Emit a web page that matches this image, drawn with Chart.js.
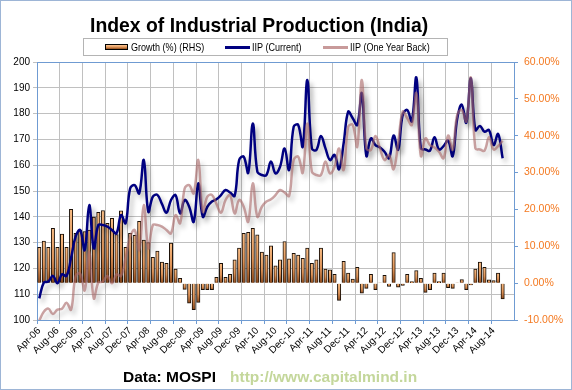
<!DOCTYPE html>
<html>
<head>
<meta charset="utf-8">
<script src="https://cdn.jsdelivr.net/npm/chart.js@4.4.0/dist/chart.umd.min.js"></script>
<style>
  html, body { margin: 0; padding: 0; background: #fff; }
  #wrap { position: relative; width: 572px; height: 390px; overflow: hidden; font-family: 'Liberation Sans', Arial, sans-serif; }
  #chart { position: absolute; left: 0; top: 0; }
  #frame { position: absolute; left: 0; top: 0; width: 572px; height: 390px; box-sizing: border-box; border: 1px solid #9db5d6; pointer-events: none; }
  .title { position: absolute; left: 90px; top: 14px; font-weight: bold; font-size: 21px; line-height: 21px; white-space: nowrap; color: #000; transform: scaleX(0.923); transform-origin: 0 0; }
  .legend { position: absolute; left: 83px; top: 38px; width: 365px; height: 18px; box-sizing: border-box; border: 1px solid #b4b4b4; background: #fff; font-size: 10.5px; }
  .legend span { position: absolute; top: 0; line-height: 16px; white-space: nowrap; color: #000; transform: scaleX(0.86); transform-origin: 0 0; }
  .legend .swatch { position: absolute; left: 21px; top: 5px; width: 23px; height: 6px; box-sizing: border-box; border: 1px solid #000; background: linear-gradient(#fcc896, #e49a5e 50%, #93501f); }
  .legend .ln { position: absolute; top: 7px; width: 25px; height: 3px; }
  .footer { position: absolute; top: 369px; font-weight: bold; font-size: 15.5px; line-height: 16px; white-space: nowrap; }
</style>
</head>
<body>
<div id="wrap">
  <canvas id="chart" width="572" height="390"></canvas>
  <div class="title">Index of Industrial Production (India)</div>
  <div class="legend">
    <div class="swatch"></div>
    <span style="left:47px">Growth (%) (RHS)</span>
    <div class="ln" style="left:141px; background:#000080"></div>
    <span style="left:168px">IIP (Current)</span>
    <div class="ln" style="left:239px; background:#c89a9a"></div>
    <span style="left:266px">IIP (One Year Back)</span>
  </div>
  <div class="footer" style="left:123px; color:#000">Data: MOSPI</div>
  <div class="footer" style="left:230px; color:#c4d79b">http://www.capitalmind.in</div>
  <div id="frame"></div>
</div>
<script>
// Apr-06 .. Dec-14, one category per month
const monthNames = ['Jan', 'Feb', 'Mar', 'Apr', 'May', 'Jun', 'Jul', 'Aug', 'Sep', 'Oct', 'Nov', 'Dec'];
const monthLabels = [];
for (let k = 0; k < 105; k++) {
    const m = (3 + k) % 12;
    const yr = 6 + Math.floor((3 + k) / 12);
    monthLabels.push(monthNames[m] + '-' + String(yr).padStart(2, '0'));
}

// Growth (%) (RHS)
const growthPct = [
    9.7, 11.4, 9.7, 14.9, 9.7, 13.3, 9.7, 20.0, 13.5, 14.4, 14.0, 14.4,
    17.9, 19.2, 19.7, 16.2, 17.6, 13.2, 19.6, 9.7, 13.5, 13.0, 16.8, 11.7,
    11.0, 7.0, 8.7, 5.7, 5.4, 10.9, 3.8, 1.3, -1.7, -5.4, -7.2, -5.2,
    -1.8, -1.8, -1.8, 1.6, 5.4, 1.6, 2.4, 6.3, 9.5, 13.5, 13.8, 14.9,
    13.1, 8.4, 7.6, 10.1, 4.7, 6.3, 11.3, 6.6, 8.1, 7.6, 6.7, 9.5,
    5.4, 6.3, 9.5, 3.8, 3.6, 2.4, -4.7, 5.9, 2.7, 1.1, 4.3, -2.7,
    -1.4, 2.4, -1.8, 0.1, 2.1, -0.9, 8.3, -1.1, -0.6, 2.4, 0.4, 3.4,
    1.3, -2.5, -1.8, 2.7, 0.4, 2.7, -1.2, -1.4, 0.1, 1.0, -1.8, -0.5,
    3.8, 5.7, 4.3, 0.9, 0.7, 2.7, -4.3
];

// IIP (Current)
const iipCurrent = [
    108.4, 114.5, 114.9, 117.1, 114.2, 117.7, 117.1, 124.0, 132.3, 134.9, 127.1, 144.6,
    127.8, 136.8, 136.8, 136.2, 134.9, 133.6, 140.7, 137.5, 151.0, 152.3, 149.1, 162.0,
    142.0, 147.8, 148.5, 145.0, 141.6, 146.5, 148.4, 141.3, 146.5, 143.9, 138.1, 153.0,
    140.0, 143.9, 145.9, 146.8, 148.4, 150.4, 149.4, 148.1, 162.0, 163.3, 157.1, 176.2,
    157.5, 156.2, 156.2, 161.4, 156.8, 159.4, 166.5, 158.1, 174.9, 175.6, 167.2, 193.0,
    166.5, 165.9, 171.3, 166.5, 162.0, 164.0, 158.4, 168.5, 180.7, 178.2, 175.6, 187.9,
    163.6, 170.4, 167.8, 166.9, 165.2, 162.7, 171.5, 166.0, 179.5, 181.4, 177.0, 194.0,
    166.5, 166.1, 165.6, 170.8, 166.1, 167.4, 169.5, 163.5, 178.0, 183.5, 176.5, 193.7,
    173.6, 175.2, 173.0, 173.6, 167.8, 172.1, 162.7
];

// IIP (One Year Back)
const iipYearBack = [
    99.8, 103.2, 104.4, 102.3, 104.0, 104.4, 106.7, 104.0, 117.0, 118.0, 111.5, 126.4,
    108.4, 114.5, 114.9, 117.1, 114.2, 117.7, 117.1, 124.0, 132.3, 134.9, 127.1, 144.6,
    127.8, 136.8, 136.8, 136.2, 134.9, 133.6, 140.7, 137.5, 151.0, 152.3, 149.1, 162.0,
    142.0, 147.8, 148.5, 145.0, 141.6, 146.5, 148.4, 141.3, 146.5, 143.9, 138.1, 153.0,
    140.0, 143.9, 145.9, 146.8, 148.4, 150.4, 149.4, 148.1, 162.0, 163.3, 157.1, 176.2,
    157.5, 156.2, 156.2, 161.4, 156.8, 159.4, 166.5, 158.1, 174.9, 175.6, 167.2, 193.0,
    166.5, 165.9, 171.3, 166.5, 162.0, 164.0, 158.4, 168.5, 180.7, 178.2, 175.6, 187.9,
    163.6, 170.4, 167.8, 166.9, 165.2, 162.7, 171.5, 166.0, 179.5, 181.4, 177.0, 194.0,
    166.5, 166.1, 165.6, 170.8, 166.1, 167.4, 169.5
];

Chart.defaults.font.family = "'Liberation Sans', Arial, sans-serif";

const axisBlue = '#6f9bd2';
const gridGrey = '#c0c0c0';

// Gradient on each bar: peach at the top, dark brown at the bottom
function barFill(context) {
    const chart = context.chart;
    const scale = chart.scales.y2;
    if (!chart.chartArea || !scale || context.raw == null) return '#e49a5e';
    const y0 = scale.getPixelForValue(0);
    const y1 = scale.getPixelForValue(context.raw);
    const top = Math.min(y0, y1);
    const bottom = Math.max(y0, y1) + 0.5;
    const g = chart.ctx.createLinearGradient(0, top, 0, bottom);
    g.addColorStop(0, '#f9bd85');
    g.addColorStop(0.55, '#de9256');
    g.addColorStop(1, '#8a4618');
    return g;
}

// Soft drop shadow under the lines
const lineShadow = {
    id: 'lineShadow',
    beforeDatasetDraw(chart, args) {
        if (args.meta.type !== 'line') return;
        const c = chart.ctx;
        c.save();
        c.shadowColor = 'rgba(0, 0, 0, 0.3)';
        c.shadowBlur = 5;
        c.shadowOffsetX = 3;
        c.shadowOffsetY = 4;
    },
    afterDatasetDraw(chart, args) {
        if (args.meta.type === 'line') chart.ctx.restore();
    }
};

new Chart(document.getElementById('chart'), {
    type: 'bar',
    data: {
        labels: monthLabels,
        datasets: [
            {
                type: 'bar',
                label: 'Growth (%) (RHS)',
                data: growthPct,
                yAxisID: 'y2',
                order: 3,
                backgroundColor: barFill,
                borderColor: '#1a1008',
                borderWidth: 1,
                barThickness: 3.4,
                categoryPercentage: 1
            },
            {
                type: 'line',
                label: 'IIP (Current)',
                data: iipCurrent,
                yAxisID: 'y',
                order: 2,
                borderColor: '#000080',
                borderWidth: 2.5,
                tension: 0.4,
                pointRadius: 0,
                fill: false
            },
            {
                type: 'line',
                label: 'IIP (One Year Back)',
                data: iipYearBack,
                yAxisID: 'y',
                order: 1,
                borderColor: 'rgba(170, 105, 105, 0.62)',
                borderWidth: 2.5,
                tension: 0.4,
                pointRadius: 0,
                fill: false
            }
        ]
    },
    options: {
        responsive: false,
        animation: false,
        layout: { padding: { top: 62, left: 0, right: 0, bottom: 0 } },
        plugins: {
            legend: { display: false },
            title: { display: false },
            tooltip: { enabled: false }
        },
        scales: {
            x: {
                offset: true,
                grid: {
                    offset: true,
                    color: c => (c.index % 5 === 0 && c.index > 0) ? gridGrey : 'transparent',
                    tickColor: c => (c.index % 5 === 0) ? axisBlue : 'transparent',
                    tickLength: 4
                },
                border: { color: axisBlue },
                ticks: {
                    autoSkip: false,
                    maxRotation: 45,
                    minRotation: 45,
                    padding: 1,
                    color: '#000',
                    font: { size: 10 },
                    callback: (value, index) => (index % 4 === 0 && index < iipCurrent.length) ? monthLabels[index] : ''
                },
                afterFit: s => { s.height = 70; }
            },
            y: {
                position: 'left',
                min: 100,
                max: 200,
                grid: {
                    color: c => c.tick && c.tick.value === 200 ? axisBlue : gridGrey,
                    tickColor: gridGrey,
                    tickLength: 4
                },
                border: { color: axisBlue },
                ticks: { stepSize: 10, color: '#000', padding: 3, font: { size: 10 } },
                afterFit: s => { s.width = 37; }
            },
            y2: {
                position: 'right',
                min: -10,
                max: 60,
                grid: { drawOnChartArea: false, color: axisBlue, tickLength: 4 },
                border: { color: axisBlue },
                ticks: {
                    stepSize: 10,
                    color: '#f47920',
                    padding: 6,
                    font: { size: 10.5 },
                    callback: v => v.toFixed(2) + '%'
                },
                afterFit: s => { s.width = 58; }
            }
        }
    },
    plugins: [lineShadow]
});
</script>
</body>
</html>
